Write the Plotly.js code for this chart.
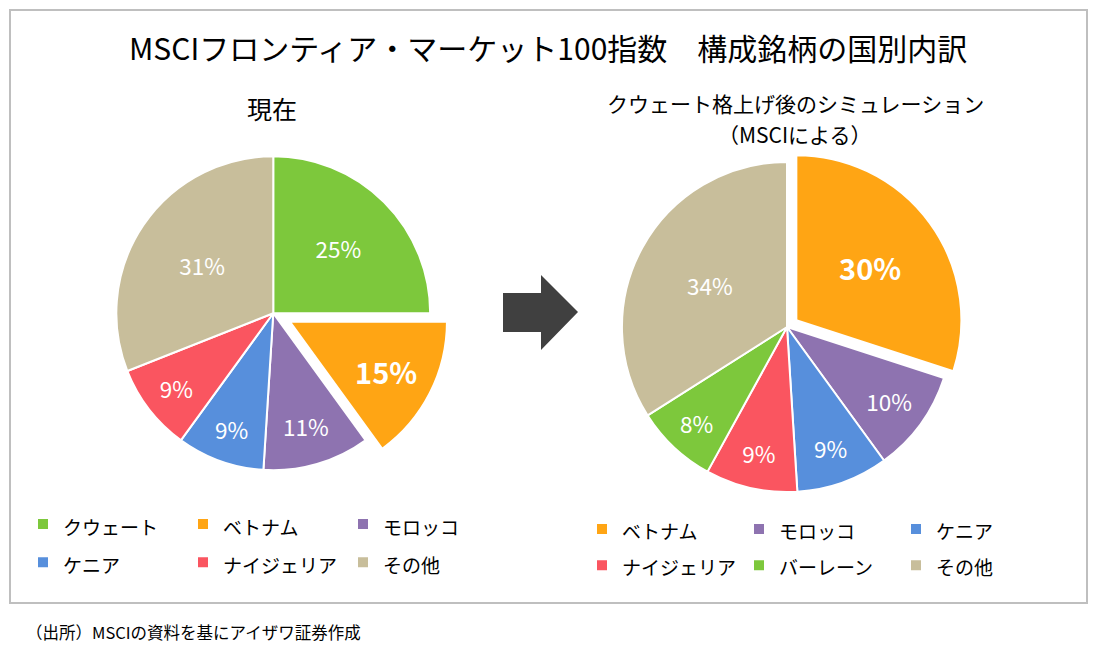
<!DOCTYPE html>
<html>
<head>
<meta charset="utf-8">
<script src="https://cdn.plot.ly/plotly-3.0.1.min.js"></script>
<style>
  html, body { margin: 0; padding: 0; background: #fff; }
  #wrap { position: relative; width: 1097px; height: 647px; background: #fff; }
  #left, #right { position: absolute; left: 0; top: 0; width: 1097px; height: 647px; }
</style>
</head>
<body>
<div id="wrap">
  <div id="left"></div>
  <div id="right"></div>
</div>
<script>
// ---- data ----
const chartTitle = 'MSCIフロンティア・マーケット100指数　構成銘柄の国別内訳';
const leftTitle = '現在';
const rightTitle1 = 'クウェート格上げ後のシミュレーション';
const rightTitle2 = '（MSCIによる）';
const sourceNote = '（出所）MSCIの資料を基にアイザワ証券作成';

const leftLabels = ['クウェート', 'ベトナム', 'モロッコ', 'ケニア', 'ナイジェリア', 'その他'];
const leftValues = [25, 15, 11, 9, 9, 31];
const leftColors = ['#7DC83C', '#FFA514', '#8E73B0', '#578FDC', '#FA5560', '#C8BE9B'];
const leftPull = [0, 0.12, 0, 0, 0, 0];
const leftBold = [false, true, false, false, false, false];

const rightLabels = ['ベトナム', 'モロッコ', 'ケニア', 'ナイジェリア', 'バーレーン', 'その他'];
const rightValues = [30, 10, 9, 9, 8, 34];
const rightColors = ['#FFA514', '#8E73B0', '#578FDC', '#FA5560', '#7DC83C', '#C8BE9B'];
const rightPull = [0.07, 0, 0, 0, 0, 0];
const rightBold = [true, false, false, false, false, false];

// ---- styling ----
const FONT = '"Noto Sans CJK JP", "Noto Sans", sans-serif';
const W = 1097, H = 647;

function legendLabels(arr) {
  return arr.map(s => '<span style="font-size:19px">' + s + '</span>');
}
function templates(bold) {
  return bold.map(b => b ? '<b>%{value}%</b>' : '%{value}%');
}
function sizes(bold) {
  return bold.map(b => b ? 29 : 22.5);
}

// ---- left figure (also holds frame, titles, arrow, note) ----
const LA = {l: 23, w: 530};
const lx = px => (px - LA.l) / LA.w;
const ly = py => 1 - py / H;

const leftTrace = {
  type: 'pie',
  labels: legendLabels(leftLabels),
  values: leftValues,
  sort: false,
  direction: 'clockwise',
  rotation: 0,
  pull: leftPull,
  marker: {colors: leftColors, line: {color: '#ffffff', width: 2}},
  textposition: 'inside',
  insidetextorientation: 'horizontal',
  texttemplate: templates(leftBold),
  textfont: {family: FONT, color: '#ffffff', size: sizes(leftBold)},
  hoverinfo: 'none',
  domain: {x: [lx(97.5), lx(449)], y: [ly(489), ly(137.5)]}
};

const arrowPts = [[503,293],[541,293],[541,275],[578,312],[541,350],[541,332],[503,332]];
const arrowPath = 'M' + arrowPts.map(p => lx(p[0]) + ',' + ly(p[1])).join('L') + 'Z';

const leftLayout = {
  width: W, height: H,
  margin: {l: LA.l, r: W - LA.l - LA.w, t: 0, b: 0, pad: 0},
  paper_bgcolor: '#ffffff',
  plot_bgcolor: '#ffffff',
  font: {family: FONT, color: '#000000'},
  showlegend: true,
  legend: {
    orientation: 'h', x: 0, xanchor: 'left', y: ly(500), yanchor: 'top',
    entrywidth: 115, entrywidthmode: 'pixels',
    font: {family: FONT, size: 27, color: '#000000'},
    bgcolor: 'rgba(0,0,0,0)', borderwidth: 0
  },
  shapes: [
    {type: 'rect', xref: 'paper', yref: 'paper', x0: lx(10), x1: lx(1087), y0: ly(10), y1: ly(603),
     line: {color: '#BFBFBF', width: 2}, fillcolor: 'rgba(0,0,0,0)'},
    {type: 'path', xref: 'paper', yref: 'paper', path: arrowPath,
     fillcolor: '#404040', line: {width: 0}}
  ],
  annotations: [
    {text: chartTitle, xref: 'paper', yref: 'paper', x: lx(548), y: ly(47),
     xanchor: 'center', yanchor: 'middle', showarrow: false, font: {size: 30, family: FONT, color: '#000'}},
    {text: leftTitle, xref: 'paper', yref: 'paper', x: lx(272), y: ly(108),
     xanchor: 'center', yanchor: 'middle', showarrow: false, font: {size: 25, family: FONT, color: '#000'}},
    {text: rightTitle1, xref: 'paper', yref: 'paper', x: lx(795), y: ly(103),
     xanchor: 'center', yanchor: 'middle', showarrow: false, font: {size: 21, family: FONT, color: '#000'}},
    {text: rightTitle2, xref: 'paper', yref: 'paper', x: lx(795), y: ly(134),
     xanchor: 'center', yanchor: 'middle', showarrow: false, font: {size: 21, family: FONT, color: '#000'}},
    {text: sourceNote, xref: 'paper', yref: 'paper', x: lx(24), y: ly(632),
     xanchor: 'left', yanchor: 'middle', showarrow: false, font: {size: 16.5, family: FONT, color: '#000'}}
  ]
};

// ---- right figure (overlay) ----
const RA = {l: 582, w: 510};
const rx = px => (px - RA.l) / RA.w;

const rightTrace = {
  type: 'pie',
  labels: legendLabels(rightLabels),
  values: rightValues,
  sort: false,
  direction: 'clockwise',
  rotation: 0,
  pull: rightPull,
  marker: {colors: rightColors, line: {color: '#ffffff', width: 2}},
  textposition: 'inside',
  insidetextorientation: 'horizontal',
  texttemplate: templates(rightBold),
  textfont: {family: FONT, color: '#ffffff', size: sizes(rightBold)},
  hoverinfo: 'none',
  domain: {x: [rx(610.4), rx(963.6)], y: [ly(503.6), ly(150.4)]}
};

const rightLayout = {
  width: W, height: H,
  margin: {l: RA.l, r: W - RA.l - RA.w, t: 0, b: 0, pad: 0},
  paper_bgcolor: 'rgba(0,0,0,0)',
  plot_bgcolor: 'rgba(0,0,0,0)',
  font: {family: FONT, color: '#000000'},
  showlegend: true,
  legend: {
    orientation: 'h', x: 0, xanchor: 'left', y: ly(506), yanchor: 'top',
    entrywidth: 112, entrywidthmode: 'pixels',
    font: {family: FONT, size: 25.5, color: '#000000'},
    bgcolor: 'rgba(0,0,0,0)', borderwidth: 0
  }
};

const cfg = {staticPlot: true, displayModeBar: false};
Plotly.newPlot('left', [leftTrace], leftLayout, cfg);
Plotly.newPlot('right', [rightTrace], rightLayout, cfg);
</script>
</body>
</html>
